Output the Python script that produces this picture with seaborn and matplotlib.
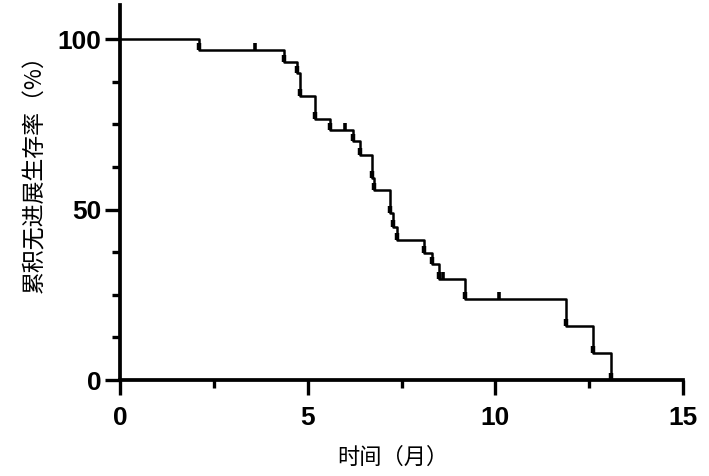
import matplotlib
matplotlib.use("Agg")
import matplotlib.pyplot as plt
from matplotlib.path import Path
from matplotlib.ticker import MultipleLocator
import seaborn as sns
import pandas as pd

# Kaplan-Meier step curve
times = [0, 2.1, 4.38, 4.71, 4.8, 5.2, 5.6, 6.2, 6.4, 6.71, 6.78, 7.2, 7.27, 7.37,
         8.1, 8.3, 8.5, 9.2, 11.88, 12.6, 13.08]
surv = [100, 96.7, 93.3, 90.0, 83.3, 76.7, 73.3, 70.0, 66.0, 59.2, 55.8, 48.9, 45.0, 41.2,
        37.4, 34.0, 29.7, 23.7, 15.8, 7.9, 0]
# censored observations
censor_t = [3.6, 6.0, 8.6, 10.1]
censor_s = [96.7, 73.3, 29.7, 23.7]

x_ticks = [0, 5, 10, 15]
y_ticks = [0, 50, 100]
x_label = "时间（月）"
y_label = "累积无进展生存率（%）"

sns.set_style("ticks")
plt.rcParams['font.family'] = ['Noto Sans CJK SC', 'DejaVu Sans']
plt.rcParams['text.color'] = 'black'
plt.rcParams['axes.labelcolor'] = 'black'
plt.rcParams['xtick.color'] = 'black'
plt.rcParams['ytick.color'] = 'black'

fig = plt.figure(figsize=(7.09, 4.76), dpi=100)
ax = fig.add_axes([120/709, (476-380)/476, (683-120)/709, (380-5)/476])

df = pd.DataFrame({"t": times, "s": surv})
sns.lineplot(data=df, x="t", y="s", drawstyle="steps-post", color="black",
             linewidth=1.8, ax=ax, estimator=None, sort=False)

up_tick = Path([(0, 0), (0, 1)])
# small upward ticks at each drop (as drawn in the reference) and at censored times
ax.plot(times[1:], surv[1:], linestyle="none", marker=up_tick, markersize=10,
        markeredgewidth=3.2, color="black")
ax.plot(censor_t, censor_s, linestyle="none", marker=up_tick, markersize=10,
        markeredgewidth=2.6, color="black")

ax.set_xlim(0, 15)
ax.set_ylim(0, 110)
ax.set_xticks(x_ticks)
ax.set_yticks(y_ticks)
ax.xaxis.set_minor_locator(MultipleLocator(2.5))
ax.yaxis.set_minor_locator(MultipleLocator(12.5))
ax.set_xticklabels([str(v) for v in x_ticks])
ax.set_yticklabels([str(v) for v in y_ticks])

for sp in ["top", "right"]:
    ax.spines[sp].set_visible(False)
for sp in ["left", "bottom"]:
    ax.spines[sp].set_linewidth(2.7)
    ax.spines[sp].set_color("black")

ax.tick_params(axis="both", which="major", length=10.5, width=2.4, color="black",
               labelcolor="black")
ax.tick_params(axis="both", which="minor", length=5.5, width=2.4, color="black")
ax.tick_params(axis="y", which="major", pad=3)
ax.tick_params(axis="x", which="major", pad=8)
for lab in ax.get_xticklabels() + ax.get_yticklabels():
    lab.set_fontfamily(["Liberation Sans", "DejaVu Sans"])
    lab.set_fontweight("bold")
    lab.set_fontsize(19)
    lab.set_color("black")

ax.set_xlabel(x_label, fontsize=16, color="black")
ax.set_ylabel(y_label, fontsize=16.5, color="black")
ax.xaxis.set_label_coords((393 - 120) / 563, (380 - 446) / 375)
ax.yaxis.set_label_coords((46 - 120) / 563, (380 - 168) / 375)
ax.grid(False)

fig.savefig("out.png", dpi=100)
